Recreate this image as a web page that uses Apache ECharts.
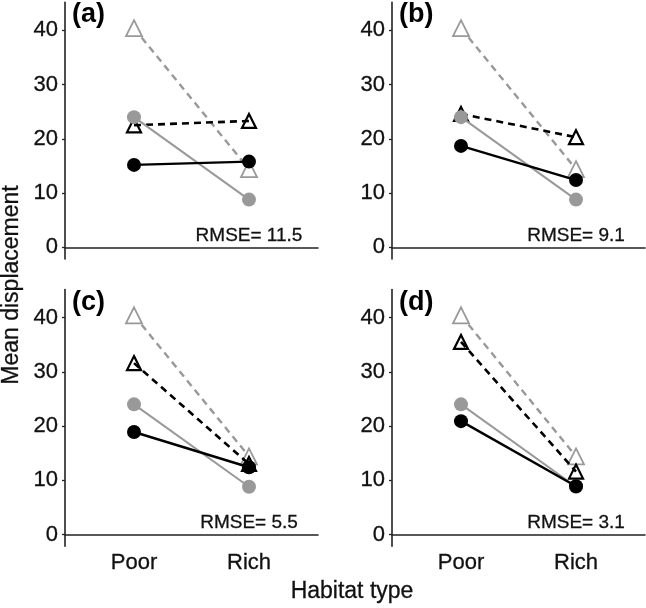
<!DOCTYPE html>
<html>
<head>
<meta charset="utf-8">
<script src="https://cdn.jsdelivr.net/npm/echarts@6/dist/echarts.min.js"></script>
<style>
html,body{margin:0;padding:0;background:#fff;}
#chart{width:646px;height:608px;}
</style>
</head>
<body>
<div id="chart"></div>
<script>
// ---- data ----
const categories = ['Poor', 'Rich'];
const panelLabels = ['(a)', '(b)', '(c)', '(d)'];
const rmseLabels = ['RMSE= 11.5', 'RMSE= 9.1', 'RMSE= 5.5', 'RMSE= 3.1'];
const yTicks = [0, 10, 20, 30, 40];
// observed (grey), same in every panel
const observedTriangle = [40.4, 14.4];
const observedCircle = [24.0, 8.8];
// model predictions (black), one per panel
const modelTriangleA = [22.5, 23.3];
const modelTriangleB = [24.6, 20.3];
const modelTriangleC = [31.6, 13.0];
const modelTriangleD = [35.5, 11.6];
const modelCircleA = [15.2, 15.8];
const modelCircleB = [18.7, 12.4];
const modelCircleC = [18.9, 12.4];
const modelCircleD = [20.9, 8.9];
const modelTriangles = [modelTriangleA, modelTriangleB, modelTriangleC, modelTriangleD];
const modelCircles = [modelCircleA, modelCircleB, modelCircleC, modelCircleD];

// ---- layout ----
const FONT = 'Liberation Sans, Arial, sans-serif';
const GREY = '#999999';
const BLACK = '#000000';
const TXT = '#111111';
const grids = [
  {left: 65, top: 2.4, width: 253, height: 256.6},
  {left: 392, top: 2.4, width: 253, height: 256.6},
  {left: 65, top: 289.6, width: 253, height: 256.6},
  {left: 392, top: 289.6, width: 253, height: 256.6}
];

const toPoints = vals => vals.map((v, i) => [i + 1, v]);

const xAxes = [], yAxes = [], series = [], titles = [];
grids.forEach((g, k) => {
  const showX = k >= 2;
  xAxes.push({
    gridIndex: k, type: 'value', min: 0.4, max: 2.6,
    axisLine: {show: true, lineStyle: {color: '#222', width: 1.6}},
    axisTick: {show: false},
    splitLine: {show: false},
    axisLabel: {
      show: showX, customValues: [1, 2], margin: 6,
      formatter: v => categories[Math.round(v) - 1] || '',
      color: TXT, fontFamily: FONT, fontSize: 22,
      textBorderColor: TXT, textBorderWidth: 0.3
    }
  });
  yAxes.push({
    gridIndex: k, type: 'value', min: -2.15, max: 45.15,
    axisLine: {show: true, lineStyle: {color: '#222', width: 1.6}},
    axisTick: {show: true, customValues: yTicks, length: 3, lineStyle: {color: '#222', width: 1.3}},
    splitLine: {show: false},
    axisLabel: {
      customValues: yTicks, margin: 7,
      color: TXT, fontFamily: FONT, fontSize: 22,
      textBorderColor: TXT, textBorderWidth: 0.3
    }
  });
  const common = {xAxisIndex: k, yAxisIndex: k, type: 'line', animation: false};
  series.push(Object.assign({}, common, {
    data: toPoints(observedTriangle), symbol: 'triangle', symbolSize: 16,
    lineStyle: {color: GREY, width: 2.4, type: [7, 5]},
    itemStyle: {color: '#ffffff', borderColor: GREY, borderWidth: 1.8}, z: 2
  }));
  series.push(Object.assign({}, common, {
    data: toPoints(modelTriangles[k]), symbol: 'triangle', symbolSize: 14,
    lineStyle: {color: BLACK, width: 2.6, type: [7, 5]},
    itemStyle: {color: 'rgba(255,255,255,0)', borderColor: BLACK, borderWidth: 2.2}, z: 3
  }));
  series.push(Object.assign({}, common, {
    data: toPoints(observedCircle), symbol: 'circle', symbolSize: 14,
    lineStyle: {color: GREY, width: 2},
    itemStyle: {color: GREY, borderWidth: 0}, z: 4
  }));
  series.push(Object.assign({}, common, {
    data: toPoints(modelCircles[k]), symbol: 'circle', symbolSize: 14,
    lineStyle: {color: BLACK, width: 2.4},
    itemStyle: {color: BLACK, borderWidth: 0}, z: 5
  }));
  series.push({
    type: 'scatter', xAxisIndex: k, yAxisIndex: k, animation: false,
    data: [[2, 2.2]], symbolSize: 0, silent: true,
    itemStyle: {opacity: 1, color: 'transparent'},
    label: {
      show: true, position: 'inside', formatter: rmseLabels[k],
      color: TXT, fontFamily: FONT, fontSize: 19, opacity: 1,
      textBorderColor: TXT, textBorderWidth: 0.3
    }
  });
  titles.push({
    text: panelLabels[k], left: g.left + 7, top: g.top - 1,
    textStyle: {fontFamily: FONT, fontSize: 27, fontWeight: 'bold', color: '#000'},
    padding: 0
  });
});

const chart = echarts.init(document.getElementById('chart'), null, {renderer: 'canvas'});
chart.setOption({
  backgroundColor: '#ffffff',
  animation: false,
  title: titles,
  grid: grids,
  xAxis: xAxes,
  yAxis: yAxes,
  series: series,
  graphic: [
    {
      type: 'text', x: 12, y: 285, rotation: Math.PI / 2,
      style: {text: 'Mean displacement', fontFamily: FONT, fontSize: 23, fill: TXT,
        stroke: TXT, lineWidth: 0.3, align: 'center', verticalAlign: 'middle'}
    },
    {
      type: 'text', x: 352, y: 592,
      style: {text: 'Habitat type', fontFamily: FONT, fontSize: 23, fill: TXT,
        stroke: TXT, lineWidth: 0.3, align: 'center', verticalAlign: 'middle'}
    }
  ]
});
</script>
</body>
</html>
